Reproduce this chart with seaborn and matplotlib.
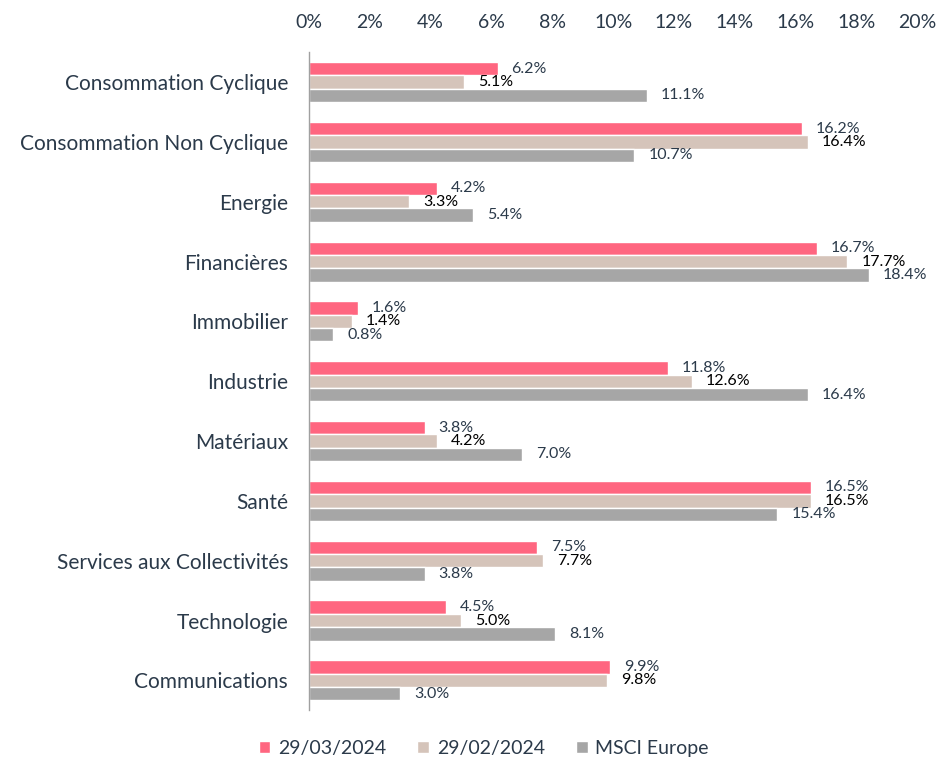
import pandas as pd
import numpy as np
import matplotlib.pyplot as plt
import seaborn as sns
from matplotlib.ticker import FuncFormatter

# data (weights in %)
categories = ['Consommation Cyclique', 'Consommation Non Cyclique', 'Energie', 'Financières',
              'Immobilier', 'Industrie', 'Matériaux', 'Santé', 'Services aux Collectivités',
              'Technologie', 'Communications']
series_names = ['29/03/2024', '29/02/2024', 'MSCI Europe']
mar_2024 = [6.2, 16.2, 4.2, 16.7, 1.6, 11.8, 3.8, 16.5, 7.5, 4.5, 9.9]
feb_2024 = [5.1, 16.4, 3.3, 17.7, 1.4, 12.6, 4.2, 16.5, 7.7, 5.0, 9.8]
msci_europe = [11.1, 10.7, 5.4, 18.4, 0.8, 16.4, 7.0, 15.4, 3.8, 8.1, 3.0]

colors = ['#FF6680', '#D5C4BA', '#A6A6A6']
label_colors = ['#2B3A4A', '#000000', '#2B3A4A']
text_color = '#2B3A4A'

df = pd.DataFrame({
    'Secteur': categories * 3,
    'Serie': np.repeat(series_names, len(categories)),
    'Poids': mar_2024 + feb_2024 + msci_europe,
})

sns.set_style('white')
plt.rcParams['font.family'] = ['Lato', 'DejaVu Sans']

fig = plt.figure(figsize=(9.43, 7.67), dpi=100)
ax = fig.add_axes([0.3277, 0.074, 0.645, 0.858])

sns.barplot(data=df, y='Secteur', x='Poids', hue='Serie', orient='h',
            palette=colors, width=0.67, saturation=1, ax=ax, errorbar=None)

# value labels just right of each bar
for cont, lc in zip(ax.containers, label_colors):
    ax.bar_label(cont, labels=[f'{v:.1f}%' for v in cont.datavalues],
                 padding=10, color=lc, fontsize=11.5)

ax.set_xlim(0, 20)
ax.set_xticks(range(0, 21, 2))
ax.xaxis.set_major_formatter(FuncFormatter(lambda v, p: f'{v:.0f}%'))
ax.xaxis.tick_top()
ax.tick_params(axis='x', length=0, labelsize=14, colors=text_color, pad=15)
ax.tick_params(axis='y', length=0, labelsize=15, colors=text_color, pad=15)
ax.set_xlabel('')
ax.set_ylabel('')
for s in ['top', 'right', 'bottom']:
    ax.spines[s].set_visible(False)
ax.spines['left'].set_color('#A0A0A0')
ax.spines['left'].set_linewidth(1)

handles, labels = ax.get_legend_handles_labels()
ax.legend_.remove()
leg = fig.legend(handles, labels, loc='lower center', bbox_to_anchor=(0.513, -0.01),
                 ncol=3, frameon=False, fontsize=14, handlelength=0.6, handleheight=0.6,
                 handletextpad=0.4, columnspacing=1.6)
for t in leg.get_texts():
    t.set_color(text_color)

fig.savefig('out.png', dpi=100)
plt.close(fig)
